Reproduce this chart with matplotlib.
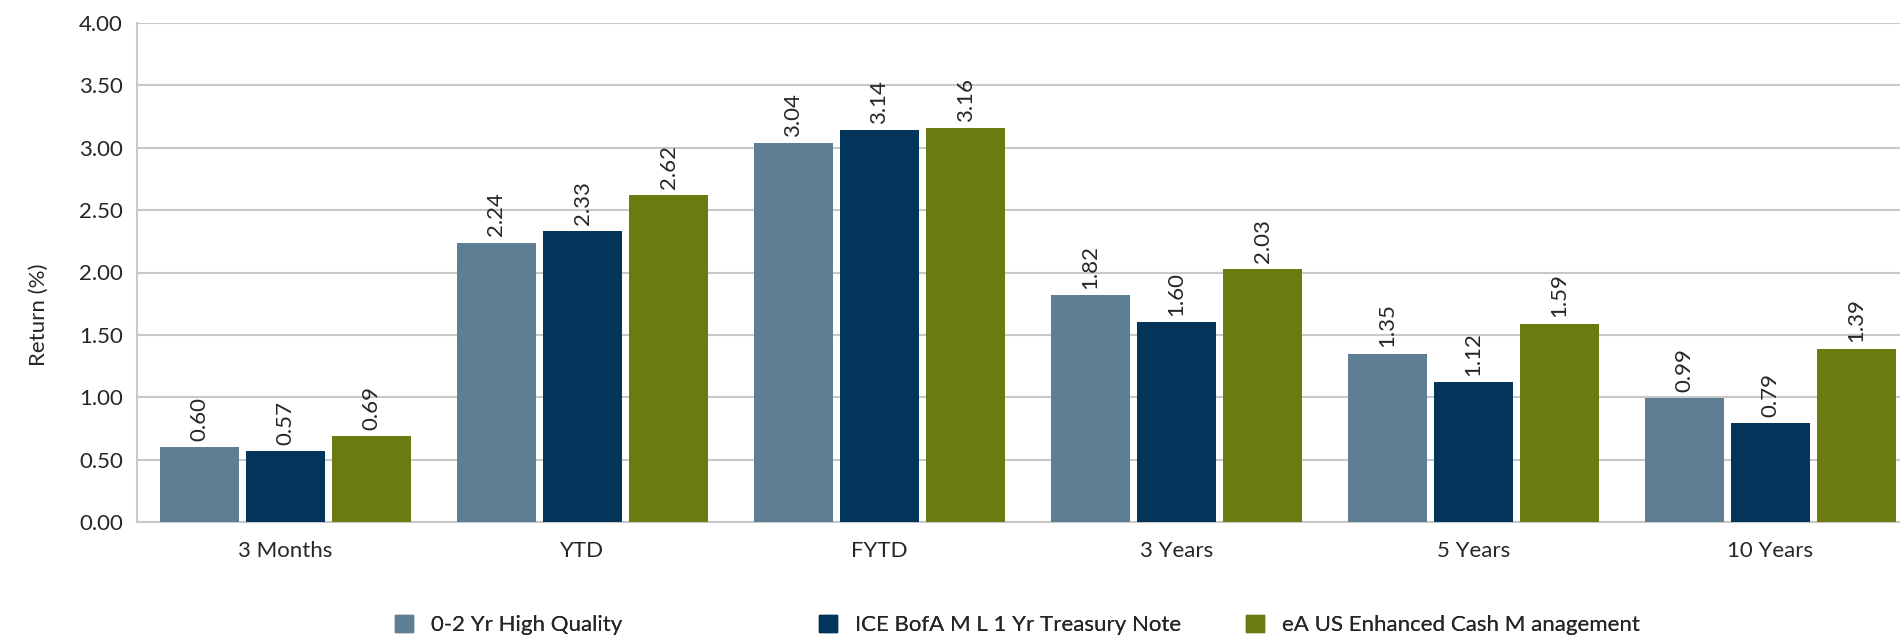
import matplotlib
matplotlib.use("Agg")
import matplotlib.pyplot as plt
from matplotlib.patches import Patch
import numpy as np

periods = ["3 Months", "YTD", "FYTD", "3 Years", "5 Years", "10 Years"]
high_quality = [0.60, 2.24, 3.04, 1.82, 1.35, 0.99]
treasury_note = [0.57, 2.33, 3.14, 1.60, 1.12, 0.79]
enhanced_cash = [0.69, 2.62, 3.16, 2.03, 1.59, 1.39]

series_names = ["0-2 Yr High Quality", "ICE BofA M L 1 Yr Treasury Note",
                "eA US Enhanced Cash M anagement"]
colors = ["#5E7F93", "#033459", "#6B7B12"]

plt.rcParams['font.family'] = ['Lato', 'DejaVu Sans']
text_color = "#262626"
grid_color = "#C8C8C8"

fig = plt.figure(figsize=(19, 6.36), dpi=100)
# plot area runs slightly past the right edge of the figure
ax = fig.add_axes([137 / 1900, 1 - 522 / 636, 1782 / 1900, 499 / 636])

x = np.arange(len(periods))
width = 0.268
step = 0.29
for i, (vals, name, c) in enumerate(zip([high_quality, treasury_note, enhanced_cash],
                                         series_names, colors)):
    pos = x + (i - 1) * step
    ax.bar(pos, vals, width, color=c, label=name, zorder=3)
    for p, v in zip(pos, vals):
        ax.text(p, v + 0.05, f"{v:.2f}", rotation=90, ha="center", va="bottom",
                fontsize=16, color=text_color)

ax.set_xlim(-0.5, len(periods) - 0.5)
ax.set_ylim(0, 4)
ax.set_yticks(np.arange(0, 4.01, 0.5))
ax.set_yticklabels([f"{t:.2f}" for t in np.arange(0, 4.01, 0.5)])
ax.set_xticks(x)
ax.set_xticklabels(periods)
ax.tick_params(axis="both", length=0, labelsize=16, labelcolor=text_color)
ax.tick_params(axis="x", pad=14)
ax.tick_params(axis="y", pad=10)
ax.grid(axis="y", color=grid_color, linewidth=1.5, zorder=0)
for s in ["top", "right"]:
    ax.spines[s].set_visible(False)
for s in ["left", "bottom"]:
    ax.spines[s].set_color(grid_color)
    ax.spines[s].set_linewidth(1.5)

fig.text(39 / 1900, 1 - 315 / 636, "Return (%)", rotation=90, ha="center",
         va="center", fontsize=16, color=text_color)

# one legend entry per series, spread along the bottom
legend_x = [395, 819, 1246]
for lx, name, c in zip(legend_x, series_names, colors):
    leg = fig.legend([Patch(color=c)], [name], loc="center left",
                     bbox_to_anchor=(lx / 1900, 1 - 625 / 636), frameon=False,
                     fontsize=16, handlelength=0.8, handleheight=0.8,
                     handletextpad=0.8, borderaxespad=0, borderpad=0,
                     labelcolor=text_color)
    fig.add_artist(leg)

fig.savefig("out.png", dpi=100)
